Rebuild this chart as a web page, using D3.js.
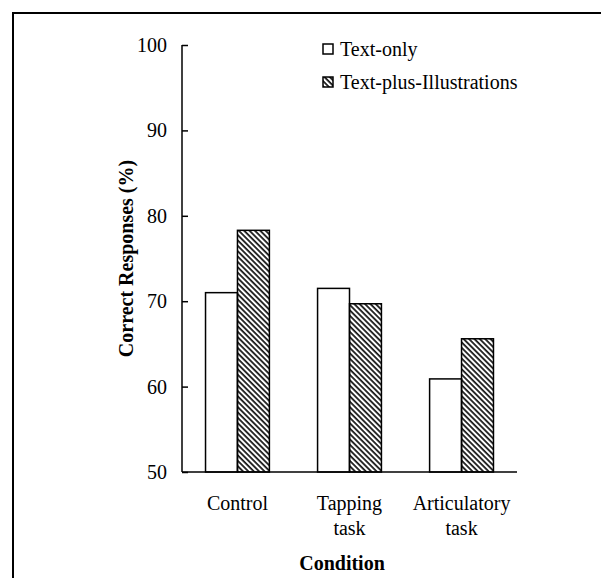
<!DOCTYPE html>
<html>
<head>
<meta charset="utf-8">
<script src="https://cdn.jsdelivr.net/npm/d3@7"></script>
<style>
  html, body { margin: 0; padding: 0; background: #fff; }
  svg text, svg tspan { font-family: "Liberation Serif", "Times New Roman", serif; fill: #000; }
</style>
</head>
<body>
<div id="chart"></div>
<script>
// data
var conditions = ["Control", "Tapping task", "Articulatory task"];
var series = ["Text-only", "Text-plus-Illustrations"];
var textOnly = [71.0, 71.5, 60.9];
var textPlusIllustrations = [78.3, 69.7, 65.6];
var yTicks = [50, 60, 70, 80, 90, 100];

var width = 601, height = 578;
var margin = { top: 45, right: 84, bottom: 106, left: 182 };

var svg = d3.select("#chart")
    .append("svg")
    .attr("width", width)
    .attr("height", height);

// hatch for the illustrated condition
var defs = svg.append("defs");
defs.append("pattern")
    .attr("id", "hatch")
    .attr("patternUnits", "userSpaceOnUse")
    .attr("width", 3.8)
    .attr("height", 3.8)
    .attr("patternTransform", "rotate(-45)")
    .append("line")
    .attr("x1", 1).attr("y1", 0)
    .attr("x2", 1).attr("y2", 3.8)
    .attr("stroke", "#000")
    .attr("stroke-width", 1.6);

// frame line top + left
svg.append("path")
    .attr("d", "M13," + height + "V13H" + width)
    .attr("fill", "none")
    .attr("stroke", "#000")
    .attr("stroke-width", 2);

var x0 = d3.scaleBand()
    .domain(conditions)
    .range([margin.left, width - margin.right])
    .paddingInner(0.43)
    .paddingOuter(0.21);

var x1 = d3.scaleBand()
    .domain(series)
    .range([0, x0.bandwidth()]);

var y = d3.scaleLinear()
    .domain([50, 100])
    .range([height - margin.bottom, margin.top]);

var rows = conditions.map(function (c, i) {
    return { condition: c, values: [
        { key: series[0], value: textOnly[i] },
        { key: series[1], value: textPlusIllustrations[i] }
    ] };
});

var group = svg.selectAll(".group")
    .data(rows)
    .enter()
    .append("g")
    .attr("class", "group")
    .attr("transform", function (d) { return "translate(" + x0(d.condition) + ",0)"; });

group.selectAll("rect")
    .data(function (d) { return d.values; })
    .enter()
    .append("rect")
    .attr("x", function (d) { return x1(d.key); })
    .attr("y", function (d) { return y(d.value); })
    .attr("width", x1.bandwidth())
    .attr("height", function (d) { return y(50) - y(d.value); })
    .attr("fill", function (d) { return d.key === series[0] ? "#fff" : "url(#hatch)"; })
    .attr("stroke", "#000")
    .attr("stroke-width", 1.5);

// y axis, ticks pointing inward
var yAxis = svg.append("g")
    .attr("transform", "translate(" + margin.left + ",0)")
    .call(d3.axisRight(y).tickValues(yTicks).tickSize(6).tickFormat(d3.format("d")));
yAxis.attr("font-family", null);
yAxis.select(".domain").attr("d", "M0," + y(100) + "V" + y(50)).attr("stroke-width", 1.5);
yAxis.selectAll(".tick line").attr("stroke-width", 1.5);
yAxis.selectAll(".tick text")
    .attr("x", -15)
    .attr("text-anchor", "end")
    .attr("font-size", 20);

// x axis line only
svg.append("line")
    .attr("x1", margin.left).attr("x2", width - margin.right)
    .attr("y1", y(50)).attr("y2", y(50))
    .attr("stroke", "#000")
    .attr("stroke-width", 1.5);

// category labels, two lines where needed
var catLabels = {
    "Control": ["Control"],
    "Tapping task": ["Tapping", "task"],
    "Articulatory task": ["Articulatory", "task"]
};
svg.selectAll(".cat")
    .data(conditions)
    .enter()
    .append("text")
    .attr("class", "cat")
    .attr("text-anchor", "middle")
    .attr("font-size", 20)
    .attr("x", function (d) { return x0(d) + x0.bandwidth() / 2; })
    .attr("y", y(50) + 38)
    .each(function (d) {
        var t = d3.select(this);
        catLabels[d].forEach(function (line, i) {
            t.append("tspan")
                .attr("x", x0(d) + x0.bandwidth() / 2)
                .attr("dy", i === 0 ? 0 : 25)
                .text(line);
        });
    });

svg.append("text")
    .attr("x", 342)
    .attr("y", 570)
    .attr("text-anchor", "middle")
    .attr("font-size", 20)
    .attr("font-weight", "bold")
    .text("Condition");

svg.append("text")
    .attr("transform", "translate(133," + (y(75)) + ") rotate(-90)")
    .attr("text-anchor", "middle")
    .attr("font-size", 20)
    .attr("font-weight", "bold")
    .text("Correct Responses (%)");

// legend
var legend = svg.selectAll(".legend")
    .data(series)
    .enter()
    .append("g")
    .attr("class", "legend")
    .attr("transform", function (d, i) { return "translate(323," + (44 + i * 33) + ")"; });

legend.append("rect")
    .attr("width", 10)
    .attr("height", 10)
    .attr("fill", function (d, i) { return i === 0 ? "#fff" : "url(#hatch)"; })
    .attr("stroke", "#000")
    .attr("stroke-width", 1.5);

legend.append("text")
    .attr("x", 17)
    .attr("y", 12)
    .attr("font-size", 20)
    .text(function (d) { return d; });
</script>
</body>
</html>
